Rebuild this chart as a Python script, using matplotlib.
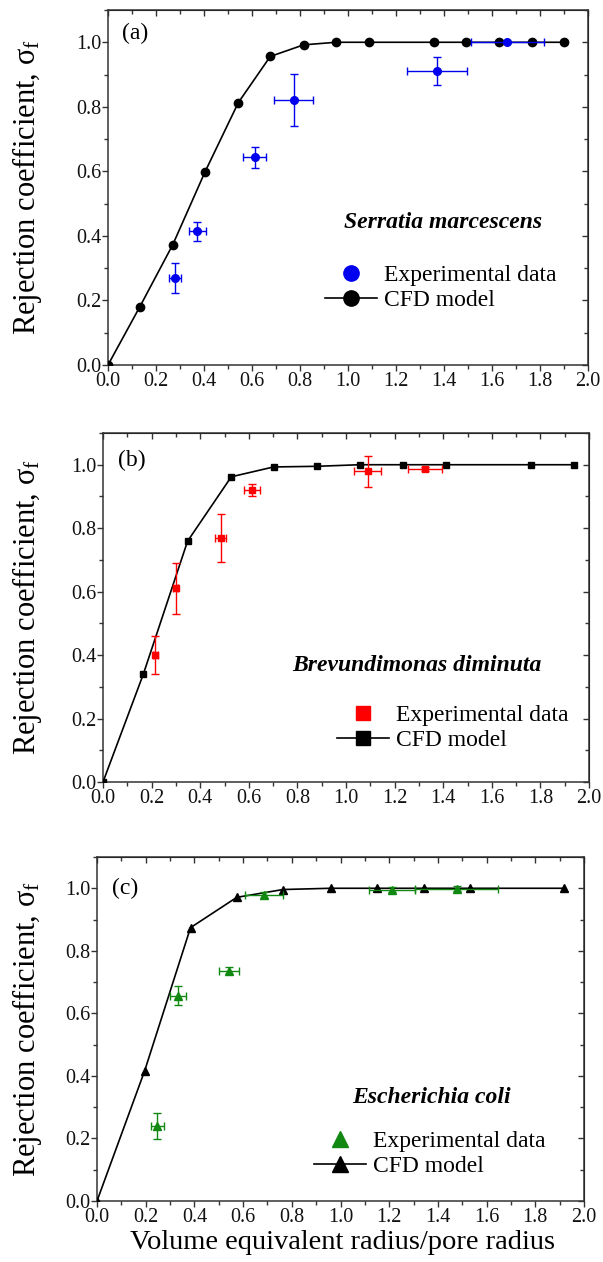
import matplotlib
matplotlib.use('Agg')
import matplotlib.pyplot as plt
from matplotlib.lines import Line2D
from matplotlib.ticker import MultipleLocator, FormatStrFormatter

plt.rcParams['font.family'] = ['Liberation Serif', 'DejaVu Serif']
plt.rcParams['mathtext.fontset'] = 'stix'

# (a) Serratia marcescens
a_cfd_x = [0, 0.133, 0.27, 0.404, 0.543, 0.676, 0.815, 0.95, 1.086, 1.358, 1.492, 1.629, 1.765, 1.901]
a_cfd_y = [0, 0.181, 0.373, 0.598, 0.813, 0.956, 0.992, 1.0, 1.0, 1.0, 1.0, 1.0, 1.0, 1.0]
a_exp_x = [0.279, 0.372, 0.611, 0.774, 1.371, 1.664]
a_exp_y = [0.269, 0.414, 0.643, 0.821, 0.911, 1.0]
a_exp_xerr = [0.024, 0.036, 0.049, 0.082, 0.124, 0.151]
a_exp_yerr = [0.047, 0.03, 0.033, 0.08, 0.044, 0.003]

# (b) Brevundimonas diminuta
b_cfd_x = [0, 0.166, 0.348, 0.528, 0.702, 0.879, 1.056, 1.233, 1.41, 1.763, 1.94]
b_cfd_y = [0, 0.34, 0.759, 0.962, 0.993, 0.995, 1.0, 1.0, 1.0, 1.0, 1.0]
b_exp_x = [0.215, 0.299, 0.484, 0.614, 1.09, 1.325]
b_exp_y = [0.40, 0.61, 0.77, 0.92, 0.979, 0.986]
b_exp_xerr = [0.01, 0.01, 0.022, 0.033, 0.056, 0.069]
b_exp_yerr = [0.06, 0.08, 0.076, 0.02, 0.05, 0.006]

# (c) Escherichia coli
c_cfd_x = [0, 0.196, 0.384, 0.574, 0.764, 0.959, 1.148, 1.341, 1.532, 1.916]
c_cfd_y = [0, 0.417, 0.874, 0.971, 0.996, 1.0, 1.0, 1.0, 1.0, 1.0]
c_exp_x = [0.248, 0.333, 0.542, 0.685, 1.212, 1.477]
c_exp_y = [0.24, 0.656, 0.737, 0.978, 0.995, 0.999]
c_exp_xerr = [0.026, 0.034, 0.042, 0.079, 0.094, 0.171]
c_exp_yerr = [0.042, 0.03, 0.01, 0.01, 0.008, 0.008]

W, H = 603, 1262
fig = plt.figure(figsize=(W / 100, H / 100), dpi=100)
fig.patch.set_facecolor('white')

ylabel = r'Rejection coefficient, $\mathregular{\sigma_f}$'
spine_col = '#333333'

panels = [
    # pixel box (left, right, top, bottom) of each axes in the figure
    dict(box=(108, 588, 10, 365), cfd=(a_cfd_x, a_cfd_y), exp=(a_exp_x, a_exp_y, a_exp_xerr, a_exp_yerr),
         marker='o', color='#0000ee', ms_cfd=6, ms_exp=5.5, ms_leg=11,
         tag='(a)', tag_y=0.935, name='Serratia marcescens', name_pos=(0.698, 0.40),
         leg_pos=(0.452, 0.282)),
    dict(box=(103, 589, 433, 782), cfd=(b_cfd_x, b_cfd_y), exp=(b_exp_x, b_exp_y, b_exp_xerr, b_exp_yerr),
         marker='s', color='#ff0000', ms_cfd=5, ms_exp=5, ms_leg=9.5,
         tag='(b)', tag_y=0.922, name='Brevundimonas diminuta', name_pos=(0.645, 0.335),
         leg_pos=(0.481, 0.222)),
    dict(box=(97, 584, 857, 1201), cfd=(c_cfd_x, c_cfd_y), exp=(c_exp_x, c_exp_y, c_exp_xerr, c_exp_yerr),
         marker='^', color='#118811', ms_cfd=6, ms_exp=5.5, ms_leg=11,
         tag='(c)', tag_y=0.91, name='Escherichia coli', name_pos=(0.686, 0.30),
         leg_pos=(0.446, 0.205)),
]

for i, p in enumerate(panels):
    l, r, t, b = p['box']
    ax = fig.add_axes([l / W, 1 - b / H, (r - l) / W, (b - t) / H])

    cx, cy = p['cfd']
    ax.plot(cx, cy, color='black', lw=1.2, marker=p['marker'], ms=p['ms_cfd'],
            mfc='black', mec='black', zorder=3)
    ex, ey, exe, eye = p['exp']
    ax.errorbar(ex, ey, xerr=exe, yerr=eye, fmt=p['marker'], color=p['color'],
                ms=p['ms_exp'], elinewidth=1.0, capsize=3, capthick=1.0, zorder=4)

    ax.set_xlim(0, 2.0)
    ax.set_ylim(0, 1.1)
    ax.xaxis.set_major_locator(MultipleLocator(0.2))
    ax.xaxis.set_minor_locator(MultipleLocator(0.1))
    ax.yaxis.set_major_locator(MultipleLocator(0.2))
    ax.yaxis.set_minor_locator(MultipleLocator(0.1))
    ax.xaxis.set_major_formatter(FormatStrFormatter('%.1f'))
    ax.yaxis.set_major_formatter(FormatStrFormatter('%.1f'))
    ax.tick_params(which='both', direction='out', colors=spine_col, labelcolor='#111111',
                   labelsize=14.5, top=False, right=False)
    ax.tick_params(which='major', length=4.0, width=1.0, pad=1.0)
    ax.tick_params(which='minor', length=2.6, width=1.0)
    for s in ax.spines.values():
        s.set_color(spine_col)
        s.set_linewidth(1.1)

    # mirrored ticks on top and right point into the axes
    top = ax.secondary_xaxis('top')
    top.xaxis.set_major_locator(MultipleLocator(0.2))
    top.xaxis.set_minor_locator(MultipleLocator(0.1))
    top.tick_params(which='both', direction='in', labeltop=False, colors=spine_col)
    top.tick_params(which='major', length=4.0, width=1.0)
    top.tick_params(which='minor', length=2.6, width=1.0)
    right = ax.secondary_yaxis('right')
    right.yaxis.set_major_locator(MultipleLocator(0.2))
    right.yaxis.set_minor_locator(MultipleLocator(0.1))
    right.tick_params(which='both', direction='in', labelright=False, colors=spine_col)
    right.tick_params(which='major', length=4.0, width=1.0)
    right.tick_params(which='minor', length=2.6, width=1.0)

    ax.set_ylabel(ylabel, fontsize=22)
    ax.yaxis.set_label_coords((44 - l) / (r - l), 0.5)

    ax.text(0.03, p['tag_y'], p['tag'], transform=ax.transAxes, fontsize=17,
            va='center', ha='left')
    ax.text(p['name_pos'][0], p['name_pos'][1], p['name'], transform=ax.transAxes,
            fontsize=17, fontweight='bold', fontstyle='italic', ha='center', va='center')

    h_exp = Line2D([], [], ls='none', marker=p['marker'], color=p['color'], ms=p['ms_leg'])
    h_cfd = Line2D([], [], color='black', lw=1.2, marker=p['marker'], ms=p['ms_leg'])
    ax.legend([h_exp, h_cfd], ['Experimental data', 'CFD model'], loc='upper left',
              bbox_to_anchor=p['leg_pos'], frameon=False, fontsize=17,
              handlelength=2.2, handletextpad=0.3, labelspacing=0.15,
              borderpad=0, borderaxespad=0)

    if i == 2:
        ax.set_xlabel('Volume equivalent radius/pore radius', fontsize=20.5)
        ax.xaxis.set_label_coords(0.505, (b - 1230) / (b - t))

fig.savefig('out.png', dpi=100)
